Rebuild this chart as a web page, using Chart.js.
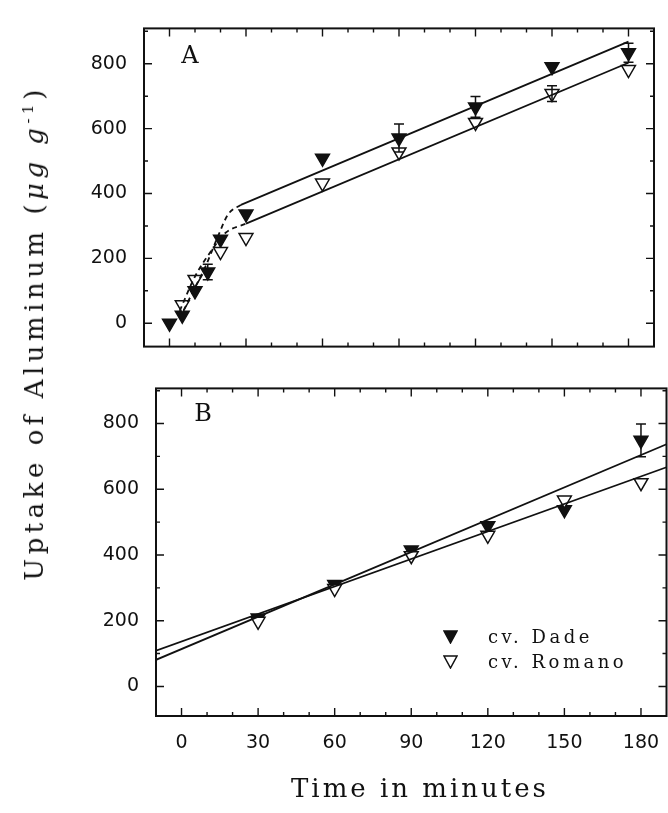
<!DOCTYPE html>
<html>
<head>
<meta charset="utf-8">
<script src="https://cdn.jsdelivr.net/npm/chart.js@4.4.0/dist/chart.umd.min.js"></script>
<style>
  body { margin: 0; background: #fff; }
  #wrap { position: relative; width: 668px; height: 813px; overflow: hidden; background: #fff; }
  canvas { position: absolute; left: 0; }
  #grafA { top: 0; }
  #grafB { top: 360px; }
  .txt { position: absolute; color: #111; font-family: "DejaVu Serif", serif; white-space: nowrap; }
  #tituloY { left: 34px; top: 333px; font-size: 26px; letter-spacing: 4.5px; transform: translate(-50%, -50%) rotate(-90deg); }
  #tituloX { left: 420px; top: 788px; font-size: 26px; letter-spacing: 3px; transform: translate(-50%, -50%); }
  .letra { font-size: 24px; transform: translate(-50%, -50%); }
  #legenda { left: 443px; top: 624px; font-size: 18px; letter-spacing: 3.5px; line-height: 25px; }
  #legenda svg { vertical-align: -1px; margin-right: 30px; }
</style>
</head>
<body>
<div id="wrap">
  <canvas id="grafA" width="668" height="375"></canvas>
  <canvas id="grafB" width="676" height="453"></canvas>
  <div class="txt" id="tituloY">Uptake of Aluminum (<i>μg g</i><sup style="font-size:15px">-1</sup>)</div>
  <div class="txt" id="tituloX">Time in minutes</div>
  <div class="txt letra" style="left:190px; top:55px">A</div>
  <div class="txt letra" style="left:203px; top:413px">B</div>
  <div class="txt" id="legenda">
    <div><svg width="15" height="14"><polygon points="1,1 14,1 7.5,13" fill="#111" stroke="#111" stroke-width="1.5"/></svg>cv. Dade</div>
    <div><svg width="15" height="14"><polygon points="1,1 14,1 7.5,13" fill="#fff" stroke="#111" stroke-width="1.5"/></svg>cv. Romano</div>
  </div>
</div>
<script>
// Painel A - tempo (min) e absorção de Al (ug/g)
var tempoDadeA = [0, 5, 10, 15, 20, 30, 60, 90, 120, 150, 180];
var dadeA = [0, 25, 100, 158, 259, 337, 509, 571, 667, 791, 834];
var erroDadeA = [0, 0, 0, 24, 0, 0, 0, 43, 32, 0, 29];
var tempoRomanoA = [5, 10, 20, 30, 60, 90, 120, 150, 180];
var romanoA = [57, 135, 221, 264, 432, 528, 619, 708, 782];
var erroRomanoA = [0, 0, 0, 0, 0, 0, 0, 24, 0];

// curvas tracejadas (fase inicial) e retas do painel A
var curvaDadeT = [4, 10, 14, 19, 23, 28];
var curvaDadeY = [15, 110, 173, 268, 336, 365];
var curvaRomanoT = [4, 10, 17, 22, 30];
var curvaRomanoY = [38, 144, 230, 279, 307];
var retaDadeAT = [28, 180];
var retaDadeAY = [365, 868];
var retaRomanoAT = [30, 180];
var retaRomanoAY = [307, 803];

// Painel B
var tempoB = [30, 60, 90, 120, 150, 180];
var dadeB = [208, 310, 415, 489, 538, 749];
var erroDadeB = [0, 0, 0, 0, 0, 50];
var romanoB = [198, 298, 398, 460, 567, 620];
var retaDadeBT = [-10, 190];
var retaDadeBY = [81, 737];
var retaRomanoBT = [-10, 190];
var retaRomanoBY = [109, 667];

// marcas das escalas
var marcasX = [0, 10, 20, 30, 40, 50, 60, 70, 80, 90, 100, 110, 120, 130, 140, 150, 160, 170, 180];
var marcasY = [0, 100, 200, 300, 400, 500, 600, 700, 800, 900];
var rotulosX = [0, 30, 60, 90, 120, 150, 180];
var rotulosY = [0, 200, 400, 600, 800];

function pares(t, v) {
  return t.map(function (x, i) { return { x: x, y: v[i] }; });
}

function pontos(t, v, erros, preenchido) {
  return {
    data: pares(t, v),
    erros: erros,
    showLine: false,
    pointStyle: 'triangle',
    rotation: 180,
    pointRadius: 8,
    pointBorderWidth: 1.5,
    pointBorderColor: '#111',
    pointBackgroundColor: preenchido ? '#111' : '#fff'
  };
}

function linha(t, v, tracejada) {
  return {
    data: pares(t, v),
    showLine: true,
    pointRadius: 0,
    borderColor: '#111',
    borderWidth: 1.8,
    borderDash: tracejada ? [5, 4] : [],
    cubicInterpolationMode: tracejada ? 'monotone' : 'default',
    fill: false
  };
}

// moldura e marcas de escala para dentro, nos quatro lados
var moldura = {
  id: 'moldura',
  afterDraw: function (chart) {
    var ctx = chart.ctx, a = chart.chartArea, x = chart.scales.x, y = chart.scales.y;
    ctx.save();
    ctx.strokeStyle = '#111';
    ctx.lineWidth = 2;
    ctx.strokeRect(a.left, a.top, a.right - a.left, a.bottom - a.top);
    ctx.lineWidth = 1.4;
    ctx.beginPath();
    x.ticks.forEach(function (t) {
      var px = x.getPixelForValue(t.value);
      var l = t.value % 30 === 0 ? 8 : 4;
      ctx.moveTo(px, a.bottom); ctx.lineTo(px, a.bottom - l);
      ctx.moveTo(px, a.top); ctx.lineTo(px, a.top + l);
    });
    y.ticks.forEach(function (t) {
      var py = y.getPixelForValue(t.value);
      var l = t.value % 200 === 0 ? 8 : 4;
      ctx.moveTo(a.left, py); ctx.lineTo(a.left + l, py);
      ctx.moveTo(a.right, py); ctx.lineTo(a.right - l, py);
    });
    ctx.stroke();
    ctx.restore();
  }
};

// barras de erro a partir da propriedade "erros" de cada conjunto
var barrasErro = {
  id: 'barrasErro',
  afterDatasetsDraw: function (chart) {
    var ctx = chart.ctx, x = chart.scales.x, y = chart.scales.y;
    ctx.save();
    ctx.strokeStyle = '#111';
    ctx.lineWidth = 1.5;
    chart.data.datasets.forEach(function (ds) {
      if (!ds.erros) return;
      ds.data.forEach(function (p, i) {
        var e = ds.erros[i];
        if (!e) return;
        var px = x.getPixelForValue(p.x);
        var top = y.getPixelForValue(p.y + e), bot = y.getPixelForValue(p.y - e);
        ctx.beginPath();
        ctx.moveTo(px, top); ctx.lineTo(px, bot);
        ctx.moveTo(px - 5, top); ctx.lineTo(px + 5, top);
        ctx.moveTo(px - 5, bot); ctx.lineTo(px + 5, bot);
        ctx.stroke();
      });
    });
    ctx.restore();
  }
};

function criarPainel(id, datasets, yMin, yMax, esq, dir, topo, altX, mostrarX) {
  return new Chart(document.getElementById(id), {
    type: 'scatter',
    data: { datasets: datasets },
    options: {
      responsive: false,
      animation: false,
      devicePixelRatio: 1,
      layout: { padding: { left: 0, right: dir, top: topo, bottom: 0 } },
      plugins: { legend: { display: false }, tooltip: { enabled: false } },
      scales: {
        x: {
          type: 'linear', min: -10, max: 190,
          border: { display: false },
          grid: { display: false, drawTicks: false },
          afterBuildTicks: function (s) { s.ticks = marcasX.map(function (v) { return { value: v }; }); },
          afterFit: function (s) { s.height = altX; },
          ticks: {
            display: mostrarX,
            autoSkip: false, maxRotation: 0, padding: 16,
            color: '#111', font: { family: 'DejaVu Sans', size: 19 },
            callback: function (v) { return rotulosX.indexOf(v) >= 0 ? v : ''; }
          }
        },
        y: {
          type: 'linear', min: yMin, max: yMax,
          border: { display: false },
          grid: { display: false, drawTicks: false },
          afterBuildTicks: function (s) { s.ticks = marcasY.map(function (v) { return { value: v }; }); },
          afterFit: function (s) { s.width = esq; },
          ticks: {
            autoSkip: false, padding: 17,
            color: '#111', font: { family: 'DejaVu Sans', size: 19 },
            callback: function (v) { return rotulosY.indexOf(v) >= 0 ? v : ''; }
          }
        }
      }
    },
    plugins: [moldura, barrasErro]
  });
}

criarPainel('grafA', [
  linha(curvaDadeT, curvaDadeY, true),
  linha(curvaRomanoT, curvaRomanoY, true),
  linha(retaDadeAT, retaDadeAY, false),
  linha(retaRomanoAT, retaRomanoAY, false),
  pontos(tempoRomanoA, romanoA, erroRomanoA, false),
  pontos(tempoDadeA, dadeA, erroDadeA, true)
], -72, 909, 144, 14, 14, 20, false);

criarPainel('grafB', [
  linha(retaDadeBT, retaDadeBY, false),
  linha(retaRomanoBT, retaRomanoBY, false),
  pontos(tempoB, romanoB, null, false),
  pontos(tempoB, dadeB, erroDadeB, true)
], -90, 907, 156, 2, 13, 97, true);
</script>
</body>
</html>
